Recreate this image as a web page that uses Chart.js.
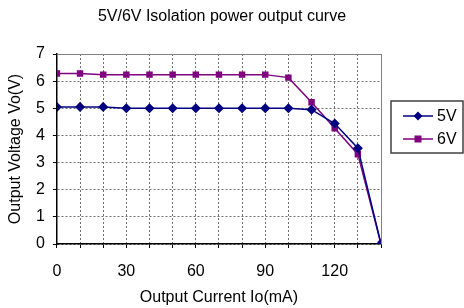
<!DOCTYPE html>
<html>
<head>
<meta charset="utf-8">
<script src="https://cdn.jsdelivr.net/npm/chart.js@4/dist/chart.umd.min.js"></script>
<style>
  html, body { margin: 0; padding: 0; background: #fff; }
  #wrap { width: 464px; height: 308px; }
</style>
</head>
<body>
<div id="wrap"><canvas id="curve" width="464" height="308"></canvas></div>
<script>
// output current (mA)
var current = [0, 10, 20, 30, 40, 50, 60, 70, 80, 90, 100, 110, 120, 130, 140];
// output voltage (V)
var volt5 = [5.05, 5.05, 5.05, 5.0, 5.0, 5.0, 5.0, 5.0, 5.0, 5.0, 5.0, 4.95, 4.44, 3.53, 0];
var volt6 = [6.28, 6.28, 6.24, 6.24, 6.24, 6.24, 6.24, 6.24, 6.24, 6.24, 6.13, 5.22, 4.26, 3.31, 0];
var seriesNames = ['5V', '6V'];
var xLabelsShown = [0, 30, 60, 90, 120];
var chartTitle = '5V/6V Isolation power output curve';
var xTitle = 'Output Current Io(mA)';

var font = "'Liberation Sans', Arial, sans-serif";

function toPoints(ys) {
    return current.map(function (x, i) { return { x: x, y: ys[i] }; });
}

// titles, plot box on top / right, custom legend
var boxPlugin = {
    id: 'boxPlugin',
    afterDraw: function (chart) {
        var ctx = chart.ctx;
        var a = chart.chartArea;
        ctx.save();
        ctx.fillStyle = '#000';
        ctx.font = '16px ' + font;
        ctx.textAlign = 'center';
        ctx.textBaseline = 'middle';
        ctx.fillText(chartTitle, (a.left + a.right) / 2 + 3, 17);
        ctx.fillText(xTitle, (a.left + a.right) / 2, 298);

        ctx.strokeStyle = '#808080';
        ctx.lineWidth = 1;
        ctx.beginPath();
        ctx.moveTo(a.left, a.top + 0.5);
        ctx.lineTo(a.right + 0.5, a.top + 0.5);
        ctx.lineTo(a.right + 0.5, a.bottom);
        ctx.stroke();

        // legend
        var lx = 391, ly = 101, lw = 72, lh = 52;
        ctx.strokeStyle = '#404040';
        ctx.lineWidth = 1.5;
        ctx.strokeRect(lx, ly, lw, lh);
        chart.data.datasets.forEach(function (ds, i) {
            var y = ly + 15 + i * 23;
            ctx.strokeStyle = ds.borderColor;
            ctx.lineWidth = 1.5;
            ctx.beginPath();
            ctx.moveTo(lx + 12, y);
            ctx.lineTo(lx + 42, y);
            ctx.stroke();
            ctx.fillStyle = ds.pointBackgroundColor;
            ctx.beginPath();
            if (ds.pointStyle === 'rectRot') {
                ctx.moveTo(lx + 27, y - 4.5);
                ctx.lineTo(lx + 31.5, y);
                ctx.lineTo(lx + 27, y + 4.5);
                ctx.lineTo(lx + 22.5, y);
                ctx.closePath();
            } else {
                ctx.rect(lx + 23.5, y - 3.5, 7, 7);
            }
            ctx.fill();
            ctx.fillStyle = '#000';
            ctx.font = '16px ' + font;
            ctx.textBaseline = 'middle';
            ctx.textAlign = 'left';
            ctx.fillText(ds.label, lx + 46, y + 1);
        });
        ctx.restore();
    }
};

var ctx = document.getElementById('curve').getContext('2d');
var chart = new Chart(ctx, {
    type: 'line',
    data: {
        datasets: [{
            label: seriesNames[0],
            data: toPoints(volt5),
            borderColor: '#000080',
            backgroundColor: '#000080',
            pointBackgroundColor: '#000080',
            pointBorderColor: '#000080',
            pointStyle: 'rectRot',
            pointRadius: 4,
            borderWidth: 1.5,
            tension: 0
        }, {
            label: seriesNames[1],
            data: toPoints(volt6),
            borderColor: '#800080',
            backgroundColor: '#800080',
            pointBackgroundColor: '#800080',
            pointBorderColor: '#800080',
            pointStyle: 'rect',
            pointRadius: 3.5,
            borderWidth: 1.5,
            tension: 0
        }]
    },
    options: {
        responsive: false,
        animation: false,
        layout: { padding: { left: 8, right: 83, top: 54, bottom: 12 } },
        plugins: {
            legend: { display: false },
            tooltip: { enabled: false },
            title: { display: false }
        },
        scales: {
            x: {
                type: 'linear',
                min: 0,
                max: 140,
                ticks: {
                    stepSize: 10,
                    autoSkip: false,
                    maxRotation: 0,
                    color: '#000',
                    font: { family: font, size: 16, lineHeight: 1 },
                    padding: 16,
                    callback: function (v) {
                        return xLabelsShown.indexOf(v) >= 0 ? String(v) : '';
                    }
                },
                grid: {
                    color: '#707070',
                    tickColor: '#000',
                    tickLength: 4,
                    lineWidth: 1
                },
                border: { color: '#000', width: 1.5, dash: [2, 2] },
                title: { display: false }
            },
            y: {
                min: 0,
                max: 7,
                ticks: {
                    stepSize: 1,
                    color: '#000',
                    font: { family: font, size: 16, lineHeight: 1 },
                    padding: 8
                },
                grid: {
                    color: '#707070',
                    tickColor: '#000',
                    tickLength: 4,
                    lineWidth: 1
                },
                border: { color: '#000', width: 1.5, dash: [2, 2] },
                title: {
                    display: true,
                    text: 'Output Voltage Vo(V)',
                    color: '#000',
                    font: { family: font, size: 16, lineHeight: 1 },
                    padding: { top: 0, bottom: 4 }
                }
            }
        }
    },
    plugins: [boxPlugin]
});
</script>
</body>
</html>
